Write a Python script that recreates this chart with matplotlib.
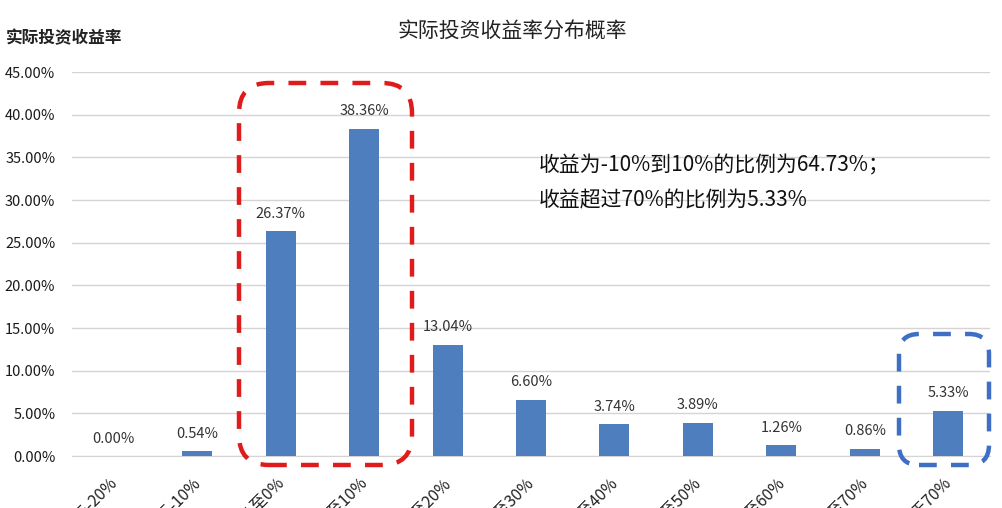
import matplotlib
matplotlib.use("Agg")
import matplotlib.pyplot as plt
from matplotlib.patches import FancyBboxPatch
from matplotlib.transforms import IdentityTransform
from matplotlib.ticker import FuncFormatter

plt.rcParams['font.family'] = ['Noto Sans CJK SC', 'DejaVu Sans']

categories = ["小于-20%", "-20%至-10%", "-10%至0%", "0%至10%", "10%至20%", "20%至30%",
              "30%至40%", "40%至50%", "50%至60%", "60%至70%", "大于70%"]
values = [0.00, 0.54, 26.37, 38.36, 13.04, 6.60, 3.74, 3.89, 1.26, 0.86, 5.33]
y_ticks = [0, 5, 10, 15, 20, 25, 30, 35, 40, 45]

title = "实际投资收益率分布概率"
y_title = "实际投资收益率"
note_lines = ["收益为-10%到10%的比例为64.73%；", "收益超过70%的比例为5.33%"]

W, H = 1002, 508
fig = plt.figure(figsize=(W / 100, H / 100), dpi=100)
fig.patch.set_facecolor('white')

ax = fig.add_axes([72 / W, 1 - 456 / H, (990 - 72) / W, (456 - 72) / H])
x = list(range(len(categories)))
bar_color = '#4f7ebf'
ax.bar(x, values, width=0.36, color=bar_color, zorder=3)
ax.set_xlim(-0.5, len(categories) - 0.5)
ax.set_ylim(0, 45)
ax.set_yticks(y_ticks)
ax.yaxis.set_major_formatter(FuncFormatter(lambda v, p: f"{v:.2f}%"))
ax.grid(axis='y', color='#d4d4d4', linewidth=1, zorder=0)
for s in ['left', 'right', 'top']:
    ax.spines[s].set_visible(False)
ax.spines['bottom'].set_color('#d4d4d4')
ax.tick_params(axis='y', length=0, pad=12, labelsize=10.5, labelcolor='#1a1a1a')
ax.tick_params(axis='x', length=0)
ax.set_xticks(x)
ax.set_xticklabels(categories, rotation=45, ha='right', va='top',
                   rotation_mode='anchor', fontsize=11.5, color='#222222')
for lab in ax.get_xticklabels():
    lab.set_x(lab.get_position()[0])
import matplotlib.transforms as mtrans
offset = mtrans.ScaledTranslation(-5 / 100, -14 / 100, fig.dpi_scale_trans)
for lab in ax.get_xticklabels():
    lab.set_transform(lab.get_transform() + offset)

for xi, v in zip(x, values):
    ax.annotate(f"{v:.2f}%", (xi, v), xytext=(0, 12.5), textcoords='offset points',
                ha='center', va='center', fontsize=10.5, color='#333333', zorder=4)

fig.text(512 / W, 1 - 32 / H, title, ha='center', va='center', fontsize=15, color='#222222')
fig.text(6 / W, 1 - 38 / H, y_title, ha='left', va='center', fontsize=12,
         fontweight='bold', color='#222222')
fig.text(539 / W, 1 - 165 / H, note_lines[0], ha='left', va='center', fontsize=15, color='#111111')
fig.text(539 / W, 1 - 200 / H, note_lines[1], ha='left', va='center', fontsize=15, color='#111111')

# dashed rounded highlight boxes (pixel coordinates)
def box(x0, y0, x1, y1, r, color):
    p = FancyBboxPatch((x0 + r, H - y1 + r), (x1 - x0) - 2 * r, (y1 - y0) - 2 * r,
                       boxstyle=f"round,pad={r}", transform=IdentityTransform(),
                       fill=False, edgecolor=color, linewidth=3.2,
                       linestyle=(0, (4, 3.2)), zorder=10)
    fig.patches.append(p)
    p.set_figure(fig)

box(239, 83, 412, 465, 30, '#e01b1b')
box(899, 334, 989, 465, 20, '#3f6fc4')

fig.savefig("out.png", dpi=100, facecolor='white')
